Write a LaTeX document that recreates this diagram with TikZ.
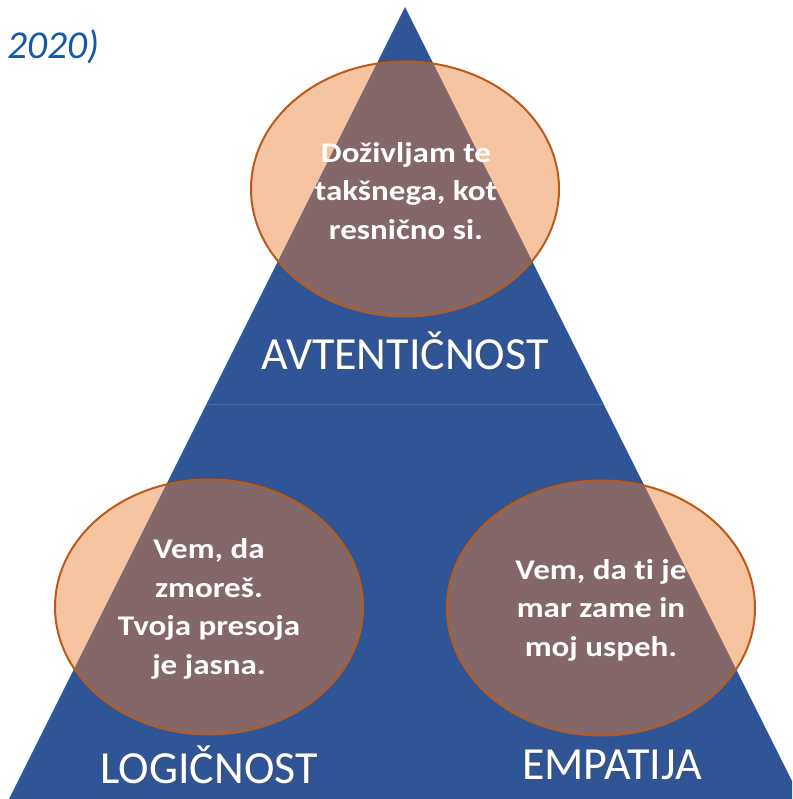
\documentclass[tikz,border=0pt]{standalone}
\usepackage{fontspec}
\setmainfont[Ligatures=NoCommon]{Carlito}
\newfontfamily\ovalfont[FakeStretch=1.16,Ligatures=NoCommon]{Carlito}
\usetikzlibrary{shapes.geometric}
\definecolor{triblue}{HTML}{2F5597}
\definecolor{triline}{HTML}{4A6CA8}
\definecolor{ovfill}{HTML}{ED7D31}
\definecolor{ovline}{HTML}{B85A1C}
\definecolor{titleblue}{HTML}{1558A8}
\tikzset{
  oval/.style={ellipse, draw=ovline, line width=2pt, fill=ovfill, fill opacity=0.45,
    minimum width=308pt, minimum height=255pt, inner sep=0pt},
  ovaltext/.style={text=white, font=\ovalfont\bfseries\fontsize{28.5}{38.5}\selectfont, align=center, inner sep=0pt},
  biglabel/.style={text=white, font=\fontsize{46}{50}\selectfont, inner sep=0pt},
  shadowlabel/.style={text=black!70, opacity=0.4, font=\fontsize{46}{50}\selectfont, inner sep=0pt},
}
\begin{document}
\begin{tikzpicture}[x=1pt,y=-1pt]
\useasboundingbox (0,0) rectangle (792,799);
\clip (0,0) rectangle (792,799);
% triangle
\fill[triblue] (405,7) -- (9,799) -- (801,799) -- cycle;
\draw[triline, line width=0.8pt] (206.5,404) -- (603.5,404);
% title fragment
\node[anchor=west, text=titleblue, font=\itshape\fontsize{39.5}{44}\selectfont, inner sep=0pt] (year) at (7,47) {2020)};
% ovals
\node[oval] (top) at (405,189) {};
\node[oval] (left) at (209,607) {};
\node[oval] (right) at (601,608) {};
% oval texts
\node[ovaltext] (toptext) at (406,191) {Doživljam te\\takšnega, kot\\resnično si.};
\node[ovaltext] (lefttext) at (209,609) {Vem, da\\zmoreš.\\Tvoja presoja\\je jasna.};
\node[ovaltext] (righttext) at (601,610) {Vem, da t\kern0pt i je\\mar zame in\\moj uspeh.};
% labels with shadow
\node[shadowlabel] (s1) at (407,353) {AVTENTIČNOST};
\node[shadowlabel] (s2) at (211,767) {LOGIČNOST};
\node[shadowlabel] (s3) at (614,767) {EMPATIJA};
\node[biglabel] (auth) at (405,351) {AVTENTIČNOST};
\node[biglabel] (logic) at (209,765) {LOGIČNOST};
\node[biglabel] (emp) at (612,765) {EMPATIJA};
\end{tikzpicture}
\end{document}
